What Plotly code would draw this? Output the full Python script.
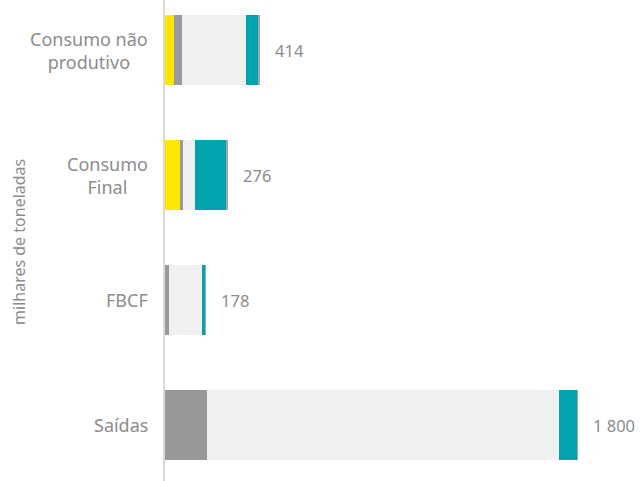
import plotly.graph_objects as go

categories = ["Saídas", "FBCF", "Consumo<br>Final", "Consumo não<br>produtivo"]
totals = [1800, 178, 276, 414]
total_labels = ["1 800", "178", "276", "414"]

seg_yellow = [1, 0, 65, 39]
seg_darkgray = [180, 17, 13, 35]
seg_lightgray = [1535, 144, 52, 279]
seg_teal = [83, 15, 135, 52]
seg_thingray = [1, 2, 11, 9]

series = [
    ("a", seg_yellow, "#FFE600"),
    ("b", seg_darkgray, "#999999"),
    ("c", seg_lightgray, "#F0F0F0"),
    ("d", seg_teal, "#00A3AE"),
    ("e", seg_thingray, "#A6A6A6"),
]

FONT = "Noto Sans"
GRAY = "#8C8C8C"

fig = go.Figure()
for name, vals, col in series:
    fig.add_trace(go.Bar(
        y=categories, x=vals, orientation="h", name=name,
        marker=dict(color=col, line=dict(width=0)),
        hoverinfo="x",
    ))

annotations = []
for cat, tot, lab in zip(categories, totals, total_labels):
    annotations.append(dict(
        x=tot, y=cat, xref="x", yref="y", text=lab,
        xanchor="left", yanchor="middle", xshift=13, showarrow=False,
        font=dict(size=16.5, color=GRAY, family=FONT),
    ))
    annotations.append(dict(
        x=0, y=cat, xref="paper", yref="y", text=cat, align="center",
        xanchor="right", yanchor="middle", xshift=-15, showarrow=False,
        font=dict(size=18, color=GRAY, family=FONT),
    ))

annotations.append(dict(
    text="milhares de toneladas", textangle=-90,
    xref="paper", yref="paper", x=0, y=0.497,
    xshift=-146, xanchor="center", yanchor="middle",
    showarrow=False, font=dict(size=16, color=GRAY, family=FONT),
))

fig.update_layout(
    width=642, height=481,
    barmode="stack", bargap=0.44,
    showlegend=False,
    plot_bgcolor="white", paper_bgcolor="white",
    margin=dict(l=165, r=0, t=0, b=0, autoexpand=False),
    font=dict(family=FONT, color=GRAY),
    xaxis=dict(range=[0, 2079], visible=False, fixedrange=True, automargin=False),
    yaxis=dict(
        range=[-0.448, 3.4],
        showline=True, linecolor="#D9D9D9", linewidth=1.5,
        showgrid=False, zeroline=False, ticks="",
        showticklabels=False, automargin=False,
    ),
    annotations=annotations,
)

fig.write_html(
    "out.html",
    config={"displayModeBar": False},
    post_script="document.body.style.margin='0';document.body.style.overflow='hidden';",
)
